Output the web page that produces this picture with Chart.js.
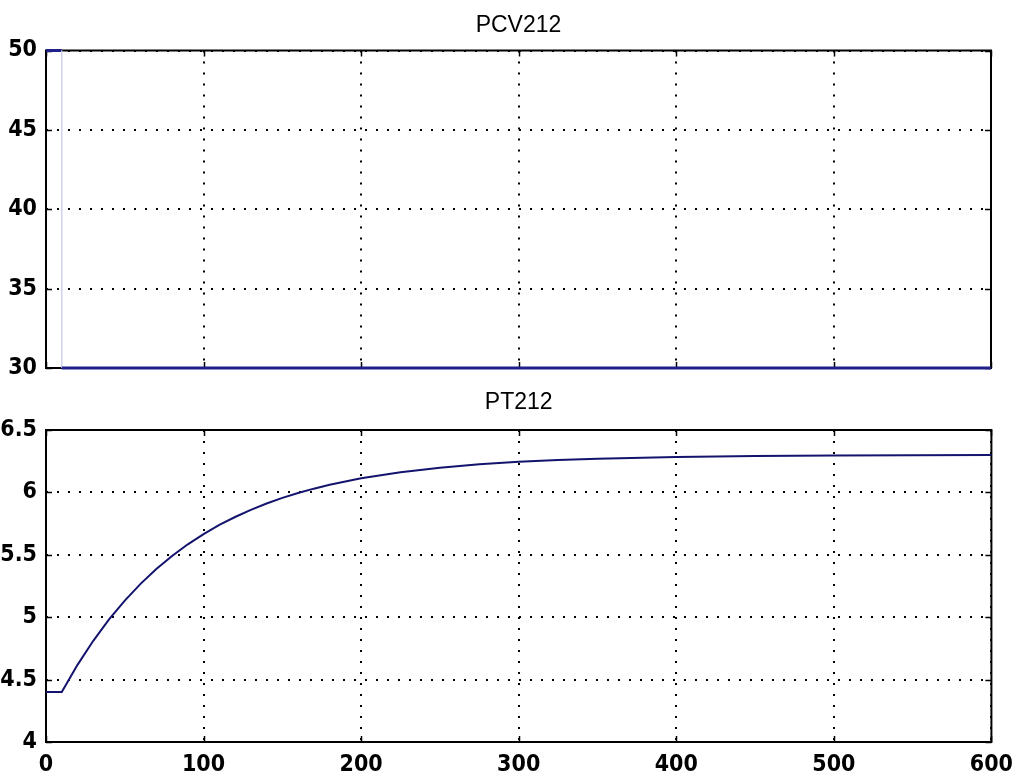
<!DOCTYPE html>
<html>
<head>
<meta charset="utf-8">
<script src="https://cdn.jsdelivr.net/npm/chart.js@4/dist/chart.umd.min.js"></script>
<style>
  html, body { margin: 0; padding: 0; background: #fff; }
  #wrap { position: relative; width: 1019px; height: 781px; overflow: hidden; background: #fff; }
  canvas { position: absolute; left: 0; }
  #c1 { top: 0; }
  #c2 { top: 385px; }
</style>
</head>
<body>
<div id="wrap">
  <canvas id="c1" width="1019" height="392"></canvas>
  <canvas id="c2" width="1022" height="396"></canvas>
</div>
<script>
// ---- data ----
const titles = ['PCV212', 'PT212'];
const timeTop = [0, 10, 10, 600];
const valuesTop = [50, 50, 30, 30];
const timeBottom = [0, 10, 20, 30, 40, 50, 60, 70, 80, 90, 100, 110, 120, 130, 140, 150, 160, 170, 180, 190, 200, 225, 250, 275, 300, 325, 350, 400, 450, 500, 550, 600];
const valuesBottom = [4.4, 4.4, 4.618, 4.811, 4.982, 5.133, 5.267, 5.386, 5.491, 5.584, 5.666, 5.739, 5.803, 5.860, 5.911, 5.956, 5.995, 6.030, 6.061, 6.088, 6.113, 6.162, 6.198, 6.225, 6.245, 6.259, 6.270, 6.284, 6.291, 6.295, 6.297, 6.299];
const xTicks = [0, 100, 200, 300, 400, 500, 600];
const yTicksTop = [30, 35, 40, 45, 50];
const yTicksBottom = [4, 4.5, 5, 5.5, 6, 6.5];

const TICK_FONT = { family: "'Liberation Sans Narrow', 'DejaVu Sans Condensed', 'Liberation Sans', sans-serif", size: 23, weight: 'bold', lineHeight: 1.2 };
const TITLE_FONT = { family: "'Liberation Sans', Arial, sans-serif", size: 23, lineHeight: 1, weight: 'normal' };

const framePlugin = {
  id: 'frame',
  beforeDatasetsDraw(chart) {
    const { ctx, chartArea: a, scales } = chart;
    ctx.save();
    ctx.setLineDash([]);
    ctx.strokeStyle = '#000';
    ctx.lineWidth = 2;
    ctx.strokeRect(a.left, a.top, a.right - a.left, a.bottom - a.top);
    ctx.lineWidth = 1.5;
    ctx.beginPath();
    scales.x.ticks.forEach(t => {
      const px = Math.round(scales.x.getPixelForValue(t.value)) + 0.5;
      ctx.moveTo(px, a.bottom); ctx.lineTo(px, a.bottom - 6);
      ctx.moveTo(px, a.top); ctx.lineTo(px, a.top + 6);
    });
    scales.y.ticks.forEach(t => {
      const py = Math.round(scales.y.getPixelForValue(t.value)) + 0.5;
      ctx.moveTo(a.left, py); ctx.lineTo(a.left + 6, py);
      ctx.moveTo(a.right, py); ctx.lineTo(a.right - 6, py);
    });
    ctx.stroke();
    ctx.restore();
  }
};

function makeChart(id, title, xs, ys, yTicks, showX, opts) {
  const pts = xs.map((x, i) => ({ x: x, y: ys[i] }));
  return new Chart(document.getElementById(id), {
    type: 'line',
    data: {
      datasets: [{
        data: pts,
        borderColor: opts.color,
        borderWidth: opts.width,
        pointRadius: 0,
        tension: 0,
        fill: false,
        clip: 6,
        segment: {
          borderColor: c => (c.p0.parsed.x === c.p1.parsed.x ? '#cfcfee' : opts.color),
          borderWidth: c => (c.p0.parsed.x === c.p1.parsed.x ? 1.5 : opts.width)
        }
      }]
    },
    options: {
      responsive: false,
      animation: false,
      devicePixelRatio: 1,
      layout: { padding: { left: 0, right: opts.padRight, top: 0, bottom: 0 } },
      plugins: {
        legend: { display: false },
        tooltip: { enabled: false },
        title: {
          display: true,
          text: title,
          color: '#000',
          font: TITLE_FONT,
          fullSize: false,
          padding: { top: opts.titleTop, bottom: opts.titleBottom }
        }
      },
      scales: {
        x: {
          type: 'linear',
          min: xTicks[0],
          max: xTicks[xTicks.length - 1],
          afterBuildTicks: s => { s.ticks = xTicks.map(v => ({ value: v })); },
          afterFit: s => { s.height = opts.xHeight; },
          grid: { color: '#000', lineWidth: 2, drawTicks: false },
          border: { display: false, dash: [2, 9] },
          ticks: {
            display: showX,
            color: '#000',
            font: TICK_FONT,
            padding: 9,
            maxRotation: 0,
            autoSkip: false,
            callback: v => String(v)
          }
        },
        y: {
          type: 'linear',
          min: yTicks[0],
          max: yTicks[yTicks.length - 1],
          afterBuildTicks: s => { s.ticks = yTicks.map(v => ({ value: v })); },
          afterFit: s => { s.width = 46; },
          grid: { color: '#000', lineWidth: 2, drawTicks: false },
          border: { display: false, dash: [2, 9] },
          ticks: {
            color: '#000',
            font: TICK_FONT,
            padding: 9,
            autoSkip: false,
            callback: v => String(v)
          }
        }
      }
    },
    plugins: [framePlugin]
  });
}

makeChart('c1', titles[0], timeTop, valuesTop, yTicksTop, false,
  { color: '#20208a', width: 3, xHeight: 24, padRight: 28, titleTop: 14, titleBottom: 13.5 });
makeChart('c2', titles[1], timeBottom, valuesBottom, yTicksBottom, true,
  { color: '#14146e', width: 2, xHeight: 39, padRight: 28, titleTop: 6, titleBottom: 16 });
</script>
</body>
</html>
